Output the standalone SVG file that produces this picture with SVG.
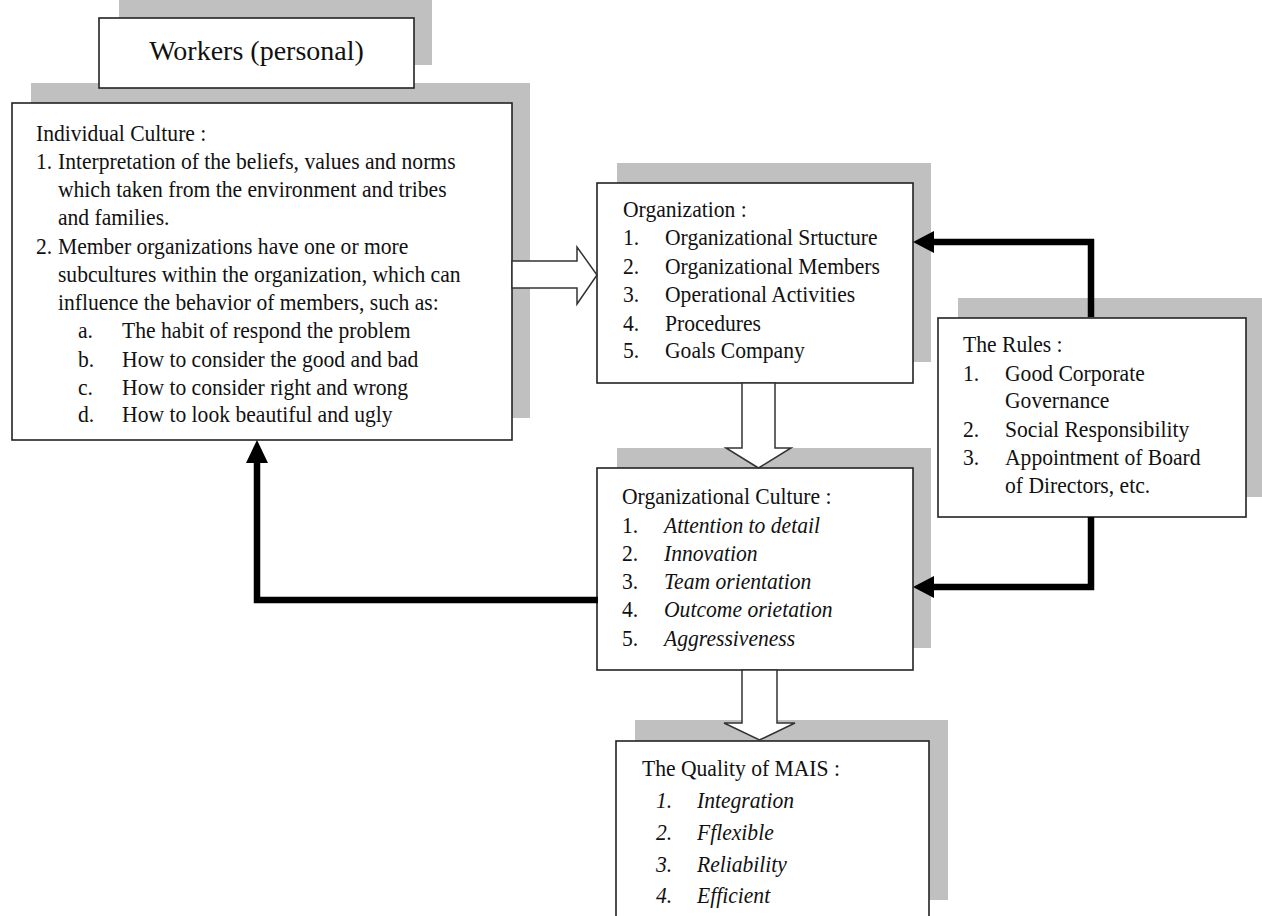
<svg xmlns="http://www.w3.org/2000/svg" width="1262" height="916" viewBox="0 0 1262 916">
<style>
.t{font-family:"Liberation Serif","Times New Roman",serif;font-size:24px;fill:#111}
.i{font-style:italic}
.sh{fill:#c0c0c0}
.box{fill:#fff;stroke:#222;stroke-width:1.6}
.conn{fill:none;stroke:#000;stroke-width:6.5}
.head{fill:#000}
.hollow{fill:#fff;stroke:#333;stroke-width:1.5;stroke-linejoin:miter}
</style>
<rect width="1262" height="916" fill="#fff"/>

<g id="individual-culture">
<rect class="sh" x="31" y="83" width="499" height="335"/>
<rect class="box" x="12" y="103" width="500" height="337"/>
<g class="t" transform="translate(36,0) scale(0.9,1)">
<text x="0" y="141">Individual Culture :</text>
<text x="0" y="169">1.</text><text x="24.4" y="169">Interpretation  of the beliefs, values and norms</text>
<text x="24.4" y="197">which taken from the environment and tribes</text>
<text x="24.4" y="225">and families.</text>
<text x="0" y="254">2.</text><text x="24.4" y="254">Member organizations  have one or more</text>
<text x="24.4" y="282">subcultures within the organization,  which can</text>
<text x="24.4" y="310">influence  the behavior  of members, such as:</text>
<text x="46.7" y="338">a.</text><text x="95.6" y="338">The habit of respond the problem</text>
<text x="46.7" y="367">b.</text><text x="95.6" y="367">How to consider the good and bad</text>
<text x="46.7" y="395">c.</text><text x="95.6" y="395">How to consider right and wrong</text>
<text x="46.7" y="422">d.</text><text x="95.6" y="422">How to look beautiful  and ugly</text>
</g>
</g>

<g id="workers">
<rect class="sh" x="119" y="-5" width="313" height="70"/>
<rect class="box" x="99" y="18" width="315" height="70"/>
<text class="t" x="256.5" y="60" text-anchor="middle" style="font-size:28px">Workers (personal)</text>
</g>

<g id="organization">
<rect class="sh" x="617" y="163" width="314" height="199"/>
<rect class="box" x="597" y="183" width="316" height="200"/>
<g class="t" transform="translate(623,0) scale(0.9,1)">
<text x="0" y="217">Organization :</text>
<text x="0" y="245">1.</text><text x="46.7" y="245">Organizational  Srtucture</text>
<text x="0" y="274">2.</text><text x="46.7" y="274">Organizational  Members</text>
<text x="0" y="302">3.</text><text x="46.7" y="302">Operational  Activities</text>
<text x="0" y="331">4.</text><text x="46.7" y="331">Procedures</text>
<text x="0" y="358">5.</text><text x="46.7" y="358">Goals Company</text>
</g>
</g>

<g id="rules">
<rect class="sh" x="958" y="298" width="310" height="199"/>
<rect class="box" x="938" y="318" width="308" height="199"/>
<g class="t" transform="translate(963,0) scale(0.9,1)">
<text x="0" y="352">The Rules :</text>
<text x="0" y="381">1.</text><text x="46.7" y="381">Good Corporate</text>
<text x="46.7" y="408">Governance</text>
<text x="0" y="437">2.</text><text x="46.7" y="437">Social Responsibility</text>
<text x="0" y="465">3.</text><text x="46.7" y="465">Appointment  of Board</text>
<text x="46.7" y="493">of Directors, etc.</text>
</g>
</g>

<g id="organizational-culture">
<rect class="sh" x="617" y="448" width="314" height="200"/>
<rect class="box" x="597" y="468" width="316" height="202"/>
<g class="t" transform="translate(622,0) scale(0.9,1)">
<text x="0" y="504">Organizational  Culture :</text>
<text x="0" y="533">1.</text><text class="i" x="46.7" y="533">Attention  to detail</text>
<text x="0" y="561">2.</text><text class="i" x="46.7" y="561">Innovation</text>
<text x="0" y="589">3.</text><text class="i" x="46.7" y="589">Team orientation</text>
<text x="0" y="617">4.</text><text class="i" x="46.7" y="617">Outcome orietation</text>
<text x="0" y="646">5.</text><text class="i" x="46.7" y="646">Aggressiveness</text>
</g>
</g>

<g id="quality-mais">
<rect class="sh" x="635" y="720" width="313" height="180"/>
<rect class="box" x="616" y="741" width="313" height="190"/>
<g class="t" transform="translate(642,0) scale(0.9,1)">
<text x="0" y="776">The Quality of MAIS :</text>
<text class="i" x="15.6" y="808">1.</text><text class="i" x="61.1" y="808">Integration</text>
<text class="i" x="15.6" y="840">2.</text><text class="i" x="61.1" y="840">Fflexible</text>
<text class="i" x="15.6" y="872">3.</text><text class="i" x="61.1" y="872">Reliability</text>
<text class="i" x="15.6" y="903">4.</text><text class="i" x="61.1" y="903">Efficient</text>
</g>
</g>

<g id="connectors">
<polygon class="hollow" points="512,261 577,261 577,247 597,275 577,304 577,288 512,288"/>
<polygon class="hollow" points="742,383 775,383 775,448 791,448 758.5,468 726,448 742,448"/>
<polygon class="hollow" points="742,670 777,670 777,723 795,723 759.5,740 724,723 742,723"/>
<path class="conn" d="M1091,317 V242 H931"/>
<polygon class="head" points="913,242 934,231 934,253"/>
<path class="conn" d="M1091,517 V587 H931"/>
<polygon class="head" points="913,587 934,576 934,598"/>
<path class="conn" d="M598,600 H257 V461"/>
<polygon class="head" points="257,440 246,463 268,463"/>
</g>
</svg>
